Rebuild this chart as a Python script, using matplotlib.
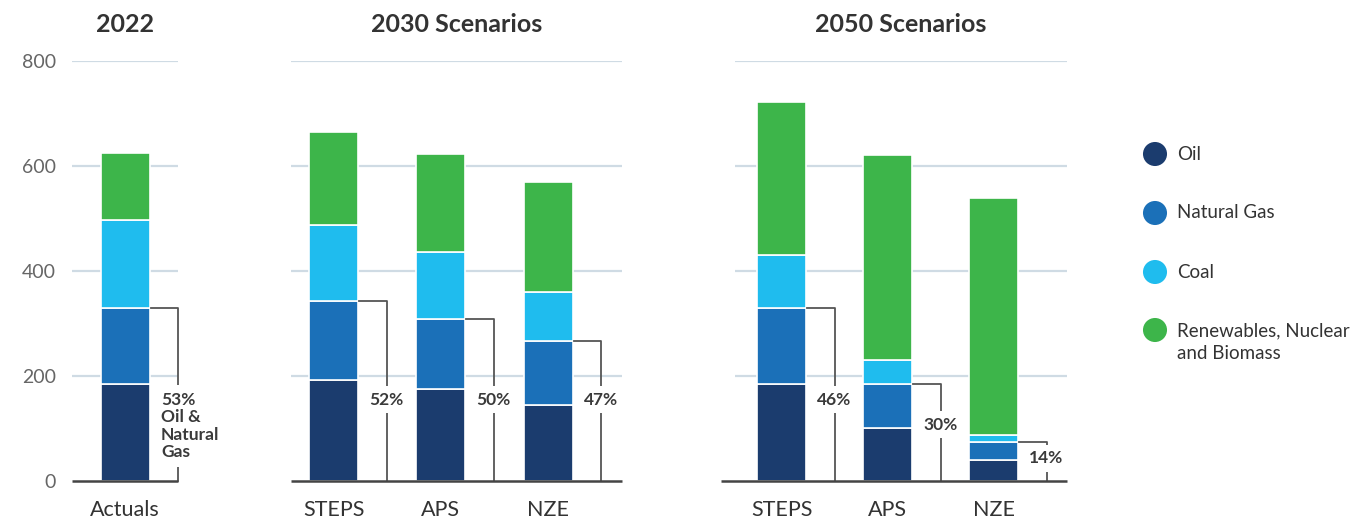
import matplotlib
matplotlib.use("Agg")
import matplotlib.pyplot as plt

plt.rcParams['font.family'] = ['Lato', 'DejaVu Sans']

# data (energy use by source)
groups = ['2022', '2030 Scenarios', '2050 Scenarios']
scenarios = [['Actuals'], ['STEPS', 'APS', 'NZE'], ['STEPS', 'APS', 'NZE']]
oil = [[185], [192, 175, 145], [185, 101, 40]]
gas = [[145], [151, 134, 122], [145, 84, 35]]
coal = [[167], [145, 127, 93], [100, 45, 13]]
renew = [[128], [177, 187, 210], [292, 391, 451]]
share_labels = [['53%\nOil &\nNatural\nGas'], ['52%', '50%', '47%'], ['46%', '30%', '14%']]

sources = ['Oil', 'Natural Gas', 'Coal', 'Renewables, Nuclear\nand Biomass']
colors = ['#1b3c6e', '#1b70b8', '#1fbcee', '#3db54a']

W, H = 1357, 523
base_px, top_px = 481, 61
# panel layout in pixels: left, right, first bar centre, bar spacing, baseline start
panels = [(72, 178, 125, 107, 72), (291, 622, 333.5, 107.3, 291), (735, 1067, 781.5, 106, 721)]

grid_c = '#cfdbe4'
line_c = '#555555'
text_c = '#333333'

fig = plt.figure(figsize=(W / 100, H / 100), dpi=100)

for g, (l, r, c0, s, b0) in enumerate(panels):
    ax = fig.add_axes([l / W, (H - base_px) / H, (r - l) / W, (base_px - top_px) / H])
    x0, x1 = (l - c0) / s, (r - c0) / s
    ax.set_xlim(x0, x1)
    ax.set_ylim(0, 800)
    for sp in ax.spines.values():
        sp.set_visible(False)

    ax.hlines([200, 400, 600, 800], x0, x1, color=grid_c, lw=1.6, zorder=0)
    ax.hlines(0, (b0 - c0) / s, x1, color='#444444', lw=1.8, zorder=3, clip_on=False)

    n = len(scenarios[g])
    xs = list(range(n))
    bw = 49 / s
    bottom = [0] * n
    for vals, col in zip([oil[g], gas[g], coal[g], renew[g]], colors):
        ax.bar(xs, vals, bw, bottom=bottom, color=col, edgecolor='white', lw=1.2, zorder=2)
        bottom = [b + v for b, v in zip(bottom, vals)]

    # brackets for oil + natural gas share
    for i in xs:
        top = oil[g][i] + gas[g][i]
        bx = i + 53 / s
        ax.plot([i + bw / 2 + 1 / s, bx, bx], [top, top, 0], color=line_c, lw=1.3,
                zorder=2, clip_on=False)
        if g == 0:
            ax.text(i + 36 / s, 170, share_labels[g][i], ha='left', va='top', fontsize=12.5,
                    fontweight='bold', color='#3a3a3a', linespacing=1.12, zorder=4,
                    bbox=dict(fc='white', ec='none', pad=5))
        else:
            ly = min(155, 0.58 * top)
            ax.text(bx, ly, share_labels[g][i], ha='center', va='center', fontsize=12.5,
                    fontweight='bold', color='#3a3a3a', zorder=4,
                    bbox=dict(fc='white', ec='none', pad=4))

    ax.set_xticks(xs, scenarios[g], fontsize=15.5, color=text_c)
    ax.tick_params(axis='x', length=0, pad=14)
    if g == 0:
        ax.set_yticks([0, 200, 400, 600, 800])
        ax.tick_params(axis='y', length=0, pad=11.5, labelsize=14, labelcolor='#666666')
    else:
        ax.set_yticks([])

    fig.text((l + r) / 2 / W, 1 - 24 / H, groups[g], ha='center', va='center',
             fontsize=18, fontweight='bold', color=text_c)

# legend
lg = fig.add_axes([0, 0, 1, 1])
lg.set_xlim(0, W)
lg.set_ylim(H, 0)
lg.axis('off')
leg_y = [154, 213, 272, 342]
for name, col, y in zip(sources, colors, leg_y):
    my = y - 12 if '\n' in name else y
    lg.scatter([1155], [my], s=300, color=col, edgecolor='none')
    lg.text(1177, y, name, ha='left', va='center', fontsize=13.5, color=text_c,
            linespacing=1.4)

fig.savefig('out.png', dpi=100)
